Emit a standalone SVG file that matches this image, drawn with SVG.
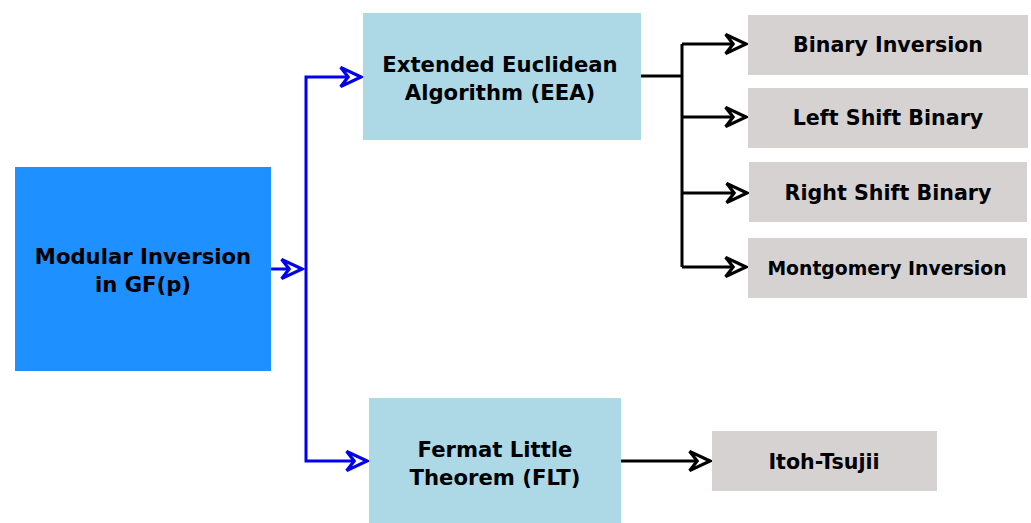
<svg xmlns="http://www.w3.org/2000/svg" width="1031" height="523" viewBox="0 0 1031 523">
<style>
text{font-family:"DejaVu Sans","Verdana",sans-serif;font-weight:bold;fill:#000;text-anchor:middle;dominant-baseline:central}
.t20{font-size:21.2px}
.t19{font-size:20.6px}
.t17{font-size:18.8px}
.blue{stroke:#0000EE;stroke-width:3;fill:none}
.blk{stroke:#000;stroke-width:3;fill:none}
.main{fill:#1E90FF}
.alg{fill:#ADD8E6}
.leaf{fill:#D6D2D2}
</style>
<defs>
<marker id="ab" markerUnits="userSpaceOnUse" markerWidth="30" markerHeight="30" viewBox="-24 -12 28 24" refX="0" refY="0" orient="auto">
<path d="M0,0 L-19,-9 L-12,0 L-19,9 Z" fill="#fff" stroke="#0000EE" stroke-width="3" stroke-linejoin="miter"/>
</marker>
<marker id="ak" markerUnits="userSpaceOnUse" markerWidth="30" markerHeight="30" viewBox="-24 -12 28 24" refX="0" refY="0" orient="auto">
<path d="M0,0 L-19,-9 L-12,0 L-19,9 Z" fill="#fff" stroke="#000" stroke-width="3" stroke-linejoin="miter"/>
</marker>
</defs>
<g id="connectors">
<path class="blue" d="M271,269 H302" marker-end="url(#ab)"/>
<path class="blue" d="M306,269 V77 H361" marker-end="url(#ab)"/>
<path class="blue" d="M306,269 V461 H367" marker-end="url(#ab)"/>
<path class="blk" d="M641,76 H682"/>
<path class="blk" d="M682,44 V267"/>
<path class="blk" d="M682,44 H746" marker-end="url(#ak)"/>
<path class="blk" d="M682,117 H746" marker-end="url(#ak)"/>
<path class="blk" d="M682,193 H747" marker-end="url(#ak)"/>
<path class="blk" d="M682,267 H746" marker-end="url(#ak)"/>
<path class="blk" d="M621,461 H710" marker-end="url(#ak)"/>
</g>
<g id="modular">
<rect class="main" x="15" y="167" width="256" height="204"/>
<text class="t20" x="143" y="256">Modular Inversion</text>
<text class="t20" x="143" y="284">in GF(p)</text>
</g>
<g id="eea">
<rect class="alg" x="363" y="13" width="278" height="127"/>
<text class="t20" x="500" y="64">Extended Euclidean</text>
<text class="t20" x="500" y="92">Algorithm (EEA)</text>
</g>
<g id="flt">
<rect class="alg" x="369" y="398" width="252" height="125"/>
<text class="t20" x="495" y="449">Fermat Little</text>
<text class="t20" x="495" y="477">Theorem (FLT)</text>
</g>
<g id="binary">
<rect class="leaf" x="748" y="15" width="280" height="60"/>
<text class="t19" x="888" y="45">Binary Inversion</text>
</g>
<g id="leftshift">
<rect class="leaf" x="748" y="88" width="280" height="60"/>
<text class="t19" x="888" y="118">Left Shift Binary</text>
</g>
<g id="rightshift">
<rect class="leaf" x="749" y="162" width="278" height="60"/>
<text class="t19" x="888" y="193">Right Shift Binary</text>
</g>
<g id="montgomery">
<rect class="leaf" x="748" y="238" width="279" height="60"/>
<text class="t17" x="887" y="268">Montgomery Inversion</text>
</g>
<g id="itoh">
<rect class="leaf" x="712" y="431" width="225" height="60"/>
<text class="t19" x="824" y="462">Itoh-Tsujii</text>
</g>
</svg>
